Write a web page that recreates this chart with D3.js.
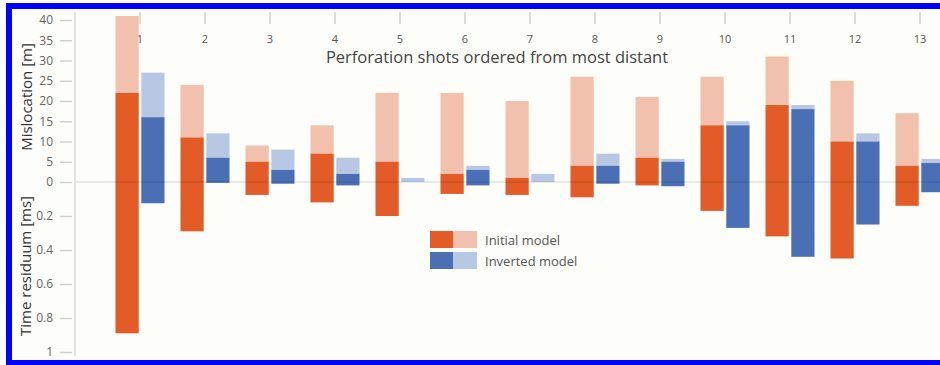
<!DOCTYPE html>
<html>
<head>
<meta charset="utf-8">
<script src="https://d3js.org/d3.v7.min.js"></script>
<style>
  body { margin: 0; background: #fff; }
  text { font-family: "Open Sans", "DejaVu Sans", sans-serif; }
</style>
</head>
<body>
<svg width="940" height="365"></svg>
<script>
// perforation shots, ordered from most distant
var shots = ["1","2","3","4","5","6","7","8","9","10","11","12","13"];
// mislocation [m] : dark part and full (light) height
var initDark  = [22, 11, 5, 7, 5, 2, 1, 4, 6, 14, 19, 10, 4];
var initTotal = [41, 24, 9, 14, 22, 22, 20, 26, 21, 26, 31, 25, 17];
var invDark   = [16, 6, 3, 2, 0, 3, 0, 4, 5, 14, 18, 10, 4.7];
var invTotal  = [27, 12, 8, 6, 1, 4, 2, 7, 5.7, 15, 19, 12, 5.7];
// time residuum [ms]
var initRes = [0.89, 0.29, 0.076, 0.12, 0.2, 0.07, 0.076, 0.09, 0.02, 0.17, 0.32, 0.45, 0.14];
var invRes  = [0.125, 0.005, 0.01, 0.02, 0, 0.02, 0, 0.01, 0.025, 0.27, 0.44, 0.25, 0.06];
var mTicks = [0, 5, 10, 15, 20, 25, 30, 35, 40];
var msTicks = [0.2, 0.4, 0.6, 0.8, 1];

var svg = d3.select("svg");

// frame
svg.append("rect").attr("x", 9).attr("y", 6).attr("width", 960).attr("height", 357)
  .attr("fill", "#fdfdf9").attr("stroke", "#0000ff").attr("stroke-width", 6);

var x0 = d3.scaleBand().domain(shots).range([107.5, 952.5]);
var x1 = d3.scaleBand().domain(["init", "inv"]).range([8, 57]).paddingInner(0.1);
var yM = d3.scaleLinear().domain([0, 40]).range([182, 20]);
var yT = d3.scaleLinear().domain([0, 1]).range([182, 352]);

var col = {
  init: {dark: "#e35b27", light: "#f2c1ad"},
  inv:  {dark: "#4b6fb4", light: "#b8c7e3"}
};

var rows = shots.map(function(s, i) {
  return {shot: s, series: [
    {key: "init", dark: initDark[i], total: initTotal[i], res: initRes[i]},
    {key: "inv",  dark: invDark[i],  total: invTotal[i],  res: invRes[i]}
  ]};
});

// left axis line
svg.append("line").attr("x1", 75).attr("x2", 75).attr("y1", 12).attr("y2", 356)
  .attr("stroke", "#d8d8d8").attr("stroke-width", 1.5);

var axM = svg.append("g").attr("transform", "translate(72,0)")
  .call(d3.axisLeft(yM).tickValues(mTicks).tickSize(12).tickPadding(7));
var axT = svg.append("g").attr("transform", "translate(72,0)")
  .call(d3.axisLeft(yT).tickValues(msTicks).tickSize(12).tickPadding(7)
    .tickFormat(function(d) { return d === 1 ? "1" : d3.format(".1f")(d); }));
[axM, axT].forEach(function(a) {
  a.select(".domain").remove();
  a.selectAll(".tick line").attr("stroke", "#d0d0d0").attr("stroke-width", 1.5);
  a.selectAll(".tick text").attr("fill", "#666").style("font-size", "12px");
});

// top category axis
var axX = svg.append("g").attr("transform", "translate(0,12)")
  .call(d3.axisBottom(x0).tickSize(12).tickPadding(11));
axX.select(".domain").remove();
axX.selectAll(".tick line").attr("stroke", "#cfcfcf").attr("stroke-width", 1.5);
axX.selectAll(".tick text").attr("fill", "#555").style("font-size", "11px");

// bars
var grp = svg.append("g").selectAll("g").data(rows).join("g")
  .attr("transform", function(d) { return "translate(" + x0(d.shot) + ",0)"; });
var bar = grp.selectAll("g").data(function(d) { return d.series; }).join("g")
  .attr("transform", function(d) { return "translate(" + x1(d.key) + ",0)"; });

bar.append("rect")
  .attr("y", function(d) { return yM(d.total); })
  .attr("height", function(d) { return yM(d.dark) - yM(d.total); })
  .attr("width", x1.bandwidth())
  .attr("fill", function(d) { return col[d.key].light; });
bar.append("rect")
  .attr("y", function(d) { return yM(d.dark); })
  .attr("height", function(d) { return yM(0) - yM(d.dark); })
  .attr("width", x1.bandwidth())
  .attr("fill", function(d) { return col[d.key].dark; });
bar.append("rect")
  .attr("y", yT(0))
  .attr("height", function(d) { return yT(d.res) - yT(0); })
  .attr("width", x1.bandwidth())
  .attr("fill", function(d) { return col[d.key].dark; });

// faint zero line across the bars
svg.append("line").attr("x1", 76).attr("x2", 940).attr("y1", yM(0)).attr("y2", yM(0))
  .attr("stroke", "#000").attr("stroke-opacity", 0.08).attr("stroke-width", 2);

// titles
svg.append("text").attr("x", 497).attr("y", 63).attr("text-anchor", "middle")
  .attr("fill", "#444").style("font-size", "16.5px")
  .text("Perforation shots ordered from most distant");
svg.append("text").attr("transform", "translate(32,97) rotate(-90)")
  .attr("text-anchor", "middle").attr("fill", "#333").style("font-size", "15px")
  .text("Mislocation [m]");
svg.append("text").attr("transform", "translate(31,266) rotate(-90)")
  .attr("text-anchor", "middle").attr("fill", "#333").style("font-size", "15px")
  .text("Time residuum [ms]");

// legend
var legend = [
  {key: "init", label: "Initial model"},
  {key: "inv", label: "Inverted model"}
];
var lg = svg.append("g").attr("transform", "translate(430,231)")
  .selectAll("g").data(legend).join("g")
  .attr("transform", function(d, i) { return "translate(0," + (i * 21) + ")"; });
lg.append("rect").attr("width", 23).attr("height", 17)
  .attr("fill", function(d) { return col[d.key].dark; });
lg.append("rect").attr("x", 23).attr("width", 24).attr("height", 17)
  .attr("fill", function(d) { return col[d.key].light; });
lg.append("text").attr("x", 55).attr("y", 13.5)
  .attr("fill", "#555").style("font-size", "13px")
  .text(function(d) { return d.label; });
</script>
</body>
</html>
